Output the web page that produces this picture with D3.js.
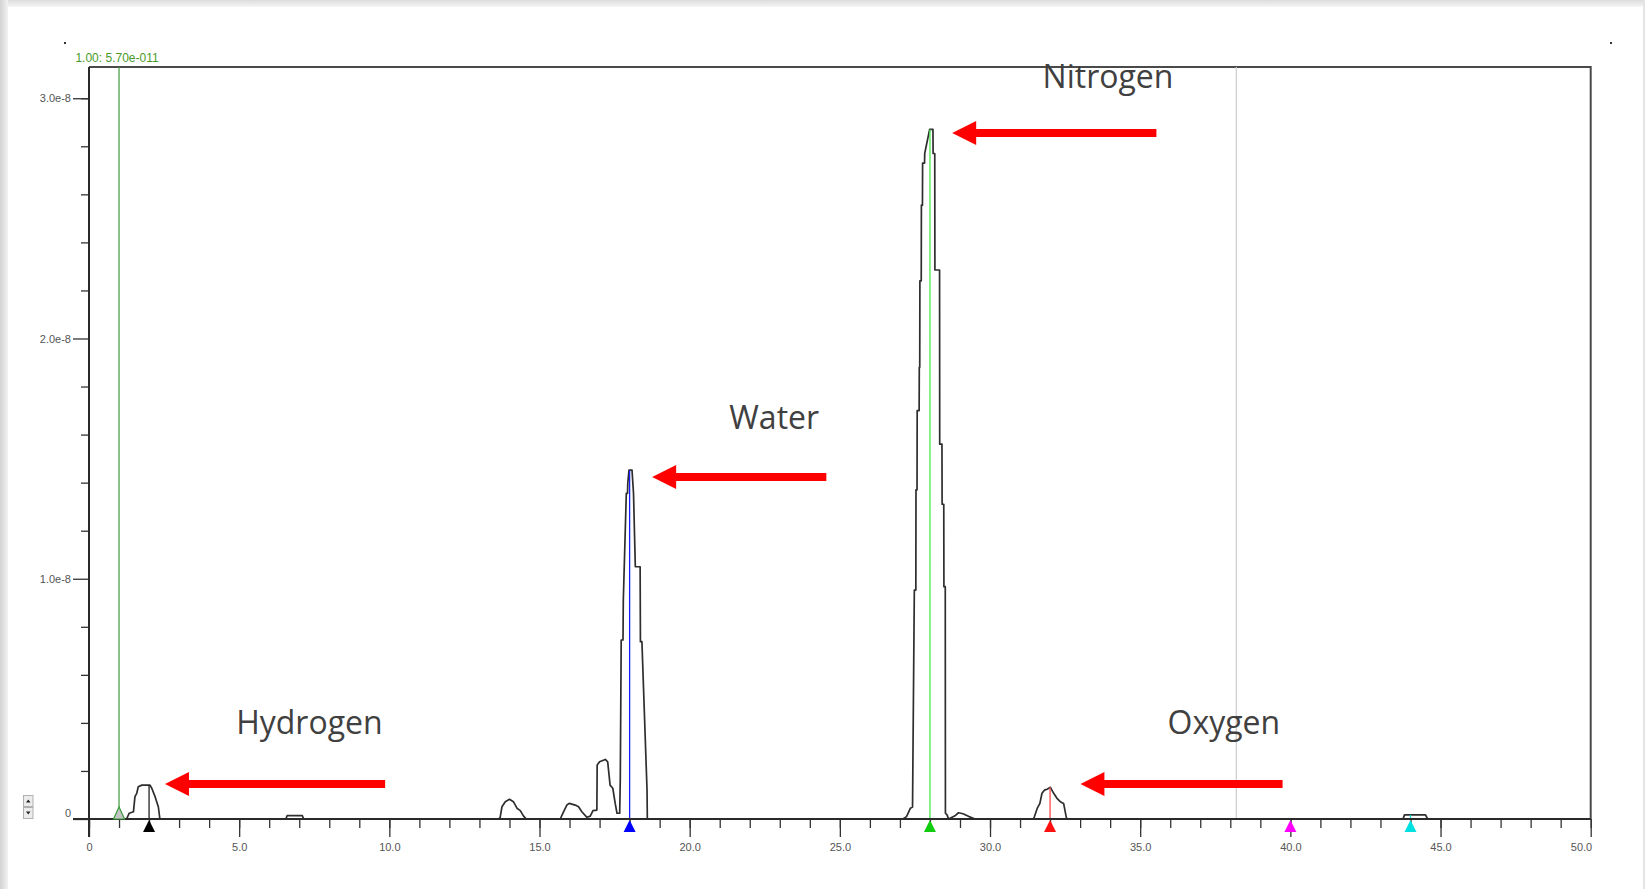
<!DOCTYPE html>
<html>
<head>
<meta charset="utf-8">
<script src="https://cdn.jsdelivr.net/npm/d3@7"></script>
<style>
body { margin: 0; background: #fff; }
svg { display: block; }
.axis-label { font-family: "Liberation Sans Narrow", "Arial Narrow", "Liberation Sans", Arial, sans-serif; font-size: 11px; fill: #555; }
.note { font-family: "Open Sans", sans-serif; font-size: 32px; fill: #404040; }
</style>
</head>
<body>
<svg id="chart" width="1645" height="889"></svg>
<script>
// scan: mass (amu) vs ion current, current in units of 1e-8
var massValues = [0.3, 1.25, 1.34, 1.48, 1.53, 1.59, 1.64, 1.76, 2.03, 2.09, 2.20, 2.31, 2.36,
    6.55, 6.60, 7.10, 7.15,
    13.65, 13.69, 13.75, 13.86, 14.00, 14.13, 14.25, 14.36, 14.47, 14.56,
    15.69, 15.80, 15.91, 15.99, 16.19, 16.30, 16.41, 16.58, 16.69, 16.78, 16.91,
    16.92, 17.00, 17.19, 17.27, 17.35, 17.44, 17.52, 17.58, 17.67,
    17.69, 17.72, 17.78, 17.79, 17.89, 17.93, 17.94, 17.98, 18.08, 18.13, 18.19, 18.35, 18.36, 18.41, 18.58, 18.59,
    27.10, 27.22, 27.35, 27.42, 27.48, 27.53, 27.535, 27.57, 27.575, 27.64, 27.645, 27.66, 27.665, 27.71, 27.715,
    27.75, 27.755, 27.82, 27.825, 27.94, 27.99, 28.10, 28.105, 28.16, 28.165, 28.32, 28.325, 28.40, 28.405,
    28.46, 28.465, 28.51, 28.515, 28.57, 28.62, 28.85, 28.95, 29.10, 29.30, 29.50,
    31.45, 31.48, 31.57, 31.66, 31.73, 31.81, 31.90, 32.01, 32.12, 32.23, 32.34, 32.45, 32.54, 32.57,
    43.75, 43.80, 44.50, 44.57, 50.0];
var currentValues = [0, 0, 0.024, 0.03, 0.093, 0.107, 0.134, 0.141, 0.141, 0.128, 0.093, 0.05, 0,
    0, 0.014, 0.014, 0,
    0, 0.007, 0.051, 0.072, 0.082, 0.072, 0.045, 0.035, 0.012, 0,
    0, 0.03, 0.058, 0.065, 0.058, 0.051, 0.03, 0.007, 0.012, 0.035, 0.037,
    0.225, 0.238, 0.248, 0.238, 0.141, 0.128, 0.065, 0.024, 0.024,
    0.17, 0.745, 0.745, 0.91, 1.355, 1.355, 1.40, 1.452, 1.452, 1.355, 1.05, 1.05, 0.738, 0.738, 0.12, 0,
    0, 0.01, 0.045, 0.05, 0.953, 0.953, 1.37, 1.37, 1.70, 1.70, 1.88, 1.88, 2.24, 2.24, 2.555,
    2.555, 2.73, 2.73, 2.77, 2.84, 2.87, 2.87, 2.77, 2.77, 2.285, 2.285, 1.56, 1.56, 1.31,
    1.31, 0.967, 0.967, 0.024, 0.017, 0, 0.015, 0.026, 0.022, 0.01, 0,
    0, 0.01, 0.044, 0.065, 0.107, 0.12, 0.124, 0.132, 0.107, 0.086, 0.072, 0.065, 0.007, 0,
    0, 0.017, 0.017, 0, 0];

// peak markers under the axis
var markerMass = [2, 18, 28, 32, 40, 44];
var markerHeights = [0.141, 1.452, 2.87, 0.132, 0, 0.017];
var markerColors = ['#000000', '#0000ff', '#11cc11', '#ff1010', '#ff00ff', '#00e0e0'];
var markerLineColors = ['#222222', '#1a1aff', '#44ee44', '#ff4a4a', '#ff00ff', '#00e0e0'];

// cursors
var cursorMass = [1.0, 38.2];
var cursorColors = ['#3d9a3d', '#cccccc'];
var cursorLabel = '1.00: 5.70e-011';

// annotations
var noteLabels = ['Hydrogen', 'Water', 'Nitrogen', 'Oxygen'];
var noteX = [4.9, 21.32, 31.75, 35.91];
var noteY = [0.354, 1.623, 3.042, 0.354];
var arrowTipX = [2.53, 18.75, 28.74, 33.01];
var arrowTailX = [9.86, 24.55, 35.54, 39.74];
var arrowY = [0.146, 1.423, 2.855, 0.146];

// ticks
var xMinorTicks = d3.range(0, 51, 1);
var xMajorTicks = [0, 5, 10, 15, 20, 25, 30, 35, 40, 45, 50];
var xTickLabels = ['0', '5.0', '10.0', '15.0', '20.0', '25.0', '30.0', '35.0', '40.0', '45.0', '50.0'];
var yMinorTicks = [0.2, 0.4, 0.6, 0.8, 1.2, 1.4, 1.6, 1.8, 2.2, 2.4, 2.6, 2.8, 3.0];
var yMajorTicks = [0, 1, 2, 3];
var yTickLabels = ['0', '1.0e-8', '2.0e-8', '3.0e-8'];

var svg = d3.select('#chart');

var x = d3.scaleLinear().domain([0, 50]).range([89, 1590.7]);
var y = d3.scaleLinear().domain([0, 3.13]).range([819, 67]);

// window frame shading
var defs = svg.append('defs');
var gl = defs.append('linearGradient').attr('id', 'shadeLeft').attr('x1', 0).attr('x2', 1).attr('y1', 0).attr('y2', 0);
gl.append('stop').attr('offset', 0).attr('stop-color', '#d2d2d2');
gl.append('stop').attr('offset', 1).attr('stop-color', '#f2f2f2');
var gt = defs.append('linearGradient').attr('id', 'shadeTop').attr('x1', 0).attr('x2', 0).attr('y1', 0).attr('y2', 1);
gt.append('stop').attr('offset', 0).attr('stop-color', '#dcdcdc');
gt.append('stop').attr('offset', 1).attr('stop-color', '#f6f6f6');

svg.append('rect').attr('x', 0).attr('y', 0).attr('width', 1645).attr('height', 7).attr('fill', 'url(#shadeTop)');
svg.append('rect').attr('x', 0).attr('y', 0).attr('width', 8).attr('height', 889).attr('fill', 'url(#shadeLeft)');
svg.append('rect').attr('x', 1643).attr('y', 0).attr('width', 2).attr('height', 889).attr('fill', '#e4e4e4');
svg.append('rect').attr('x', 64).attr('y', 42).attr('width', 2).attr('height', 2).attr('fill', '#333');
svg.append('rect').attr('x', 1610).attr('y', 42).attr('width', 2).attr('height', 2).attr('fill', '#333');

// scroll buttons
var scroll = svg.append('g').attr('transform', 'translate(23,795)');
[0, 12].forEach(function(dy, i) {
    scroll.append('rect').attr('x', 0.5).attr('y', dy + 0.5).attr('width', 9.5).attr('height', 11)
        .attr('fill', '#ececec').attr('stroke', '#b0b0b0');
    var p = i === 0 ? 'M3,' + (dy + 7.5) + 'L5.25,' + (dy + 4.5) + 'L7.5,' + (dy + 7.5) + 'Z'
                    : 'M3,' + (dy + 4.5) + 'L5.25,' + (dy + 7.5) + 'L7.5,' + (dy + 4.5) + 'Z';
    scroll.append('path').attr('d', p).attr('fill', '#222');
});

// plot frame
svg.append('path')
    .attr('d', 'M' + x(0) + ',' + y(3.13) + 'H' + x(50) + 'V' + y(0))
    .attr('fill', 'none').attr('stroke', '#4a4a4a').attr('stroke-width', 2);

// cursors
svg.selectAll('.cursor').data(cursorMass).enter().append('line')
    .attr('class', 'cursor')
    .attr('x1', function(d) { return x(d); }).attr('x2', function(d) { return x(d); })
    .attr('y1', y(3.13)).attr('y2', y(0))
    .attr('stroke', function(d, i) { return cursorColors[i]; }).attr('stroke-width', 1.2);

svg.append('text').attr('class', 'axis-label')
    .attr('x', x(cursorMass[0]) - 2).attr('y', 62)
    .attr('text-anchor', 'middle')
    .style('font-size', '12px').style('fill', '#4a9a2a')
    .text(cursorLabel);

// trace
var line = d3.line()
    .x(function(d) { return x(d[0]); })
    .y(function(d) { return y(d[1]); });

svg.append('path')
    .datum(d3.zip(massValues, currentValues))
    .attr('d', line)
    .attr('fill', 'none').attr('stroke', '#2e2e2e').attr('stroke-width', 1.7)
    .attr('stroke-linejoin', 'round');

// marker lines up to the peak
svg.selectAll('.mline').data(markerMass).enter().append('line')
    .attr('class', 'mline')
    .attr('x1', function(d) { return x(d); }).attr('x2', function(d) { return x(d); })
    .attr('y1', y(0)).attr('y2', function(d, i) { return y(markerHeights[i]); })
    .attr('stroke', function(d, i) { return markerLineColors[i]; }).attr('stroke-width', 1.3);

// axes
var xMinor = d3.axisBottom(x).tickValues(xMinorTicks).tickSize(9).tickFormat('');
var xMajor = d3.axisBottom(x).tickValues(xMajorTicks).tickSize(18).tickPadding(6)
    .tickFormat(function(d, i) { return xTickLabels[i]; });
var yMinor = d3.axisLeft(y).tickValues(yMinorTicks).tickSize(8).tickFormat('');
var yMajor = d3.axisLeft(y).tickValues(yMajorTicks).tickSize(16).tickPadding(2)
    .tickFormat(function(d, i) { return yTickLabels[i]; });

function styleAxis(g) {
    g.select('.domain').remove();
    g.selectAll('line').attr('stroke', '#333').attr('stroke-width', 1.3);
    g.selectAll('text').attr('class', 'axis-label').attr('fill', null);
}

svg.append('g').attr('transform', 'translate(0,' + y(0) + ')').call(xMinor).call(styleAxis);
var xg = svg.append('g').attr('transform', 'translate(0,' + y(0) + ')').call(xMajor).call(styleAxis);
xg.selectAll('.tick text').filter(function(d) { return d === 50; })
    .attr('text-anchor', 'end').attr('x', 1);
svg.append('g').attr('transform', 'translate(' + x(0) + ',0)').call(yMinor).call(styleAxis);
var yg = svg.append('g').attr('transform', 'translate(' + x(0) + ',0)').call(yMajor).call(styleAxis);
yg.selectAll('.tick text').filter(function(d) { return d === 0; }).attr('y', -6);

// axis lines
svg.append('line').attr('x1', x(0) - 16).attr('x2', x(50)).attr('y1', y(0)).attr('y2', y(0))
    .attr('stroke', '#2a2a2a').attr('stroke-width', 2);
svg.append('line').attr('x1', x(0)).attr('x2', x(0)).attr('y1', y(3.13)).attr('y2', y(0) + 18)
    .attr('stroke', '#2a2a2a').attr('stroke-width', 2);

// triangles
function tri(cx, top, h, w) {
    return 'M' + cx + ',' + top + 'L' + (cx + w / 2) + ',' + (top + h) + 'L' + (cx - w / 2) + ',' + (top + h) + 'Z';
}
svg.selectAll('.mtri').data(markerMass).enter().append('path')
    .attr('class', 'mtri')
    .attr('d', function(d) { return tri(x(d), y(0) + 1, 12, 12); })
    .attr('fill', function(d, i) { return markerColors[i]; });

svg.append('path')
    .attr('d', tri(x(cursorMass[0]), y(0) - 12, 12, 11))
    .attr('fill', '#c4c4c4').attr('stroke', cursorColors[0]).attr('stroke-width', 1.2);

// arrows
svg.selectAll('.arrow').data(noteLabels).enter().append('path')
    .attr('class', 'arrow')
    .attr('d', function(d, i) {
        var tip = x(arrowTipX[i]), tail = x(arrowTailX[i]), ay = y(arrowY[i]);
        var hl = 24, hw = 12, sw = 4;
        return 'M' + tip + ',' + ay +
            'L' + (tip + hl) + ',' + (ay - hw) +
            'L' + (tip + hl) + ',' + (ay - sw) +
            'L' + tail + ',' + (ay - sw) +
            'L' + tail + ',' + (ay + sw) +
            'L' + (tip + hl) + ',' + (ay + sw) +
            'L' + (tip + hl) + ',' + (ay + hw) + 'Z';
    })
    .attr('fill', '#ff0000');

svg.selectAll('.note').data(noteLabels).enter().append('text')
    .attr('class', 'note')
    .attr('x', function(d, i) { return x(noteX[i]); })
    .attr('y', function(d, i) { return y(noteY[i]); })
    .text(function(d) { return d; });
</script>
</body>
</html>
